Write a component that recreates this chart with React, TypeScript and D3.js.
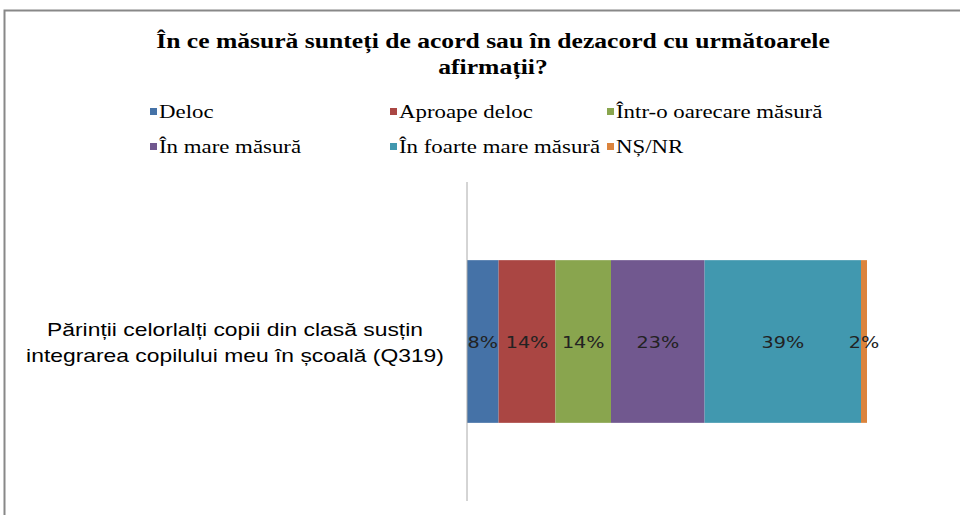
import React from "react";
import * as d3 from "d3";

const title = ["În ce măsură sunteți de acord sau în dezacord cu următoarele", "afirmații?"];
const categories = ["Părinții celorlalți copii din clasă susțin integrarea copilului meu în școală (Q319)"];
const categoryLines = ["Părinții celorlalți copii din clasă susțin", "integrarea copilului meu în școală (Q319)"];
const seriesNames = ["Deloc", "Aproape deloc", "Într-o oarecare măsură", "În mare măsură", "În foarte mare măsură", "NȘ/NR"];
const seriesValues = [7.9, 14.2, 13.9, 23.4, 39.1, 1.5];
const seriesLabels = ["8%", "14%", "14%", "23%", "39%", "2%"];
const colors = ["#4572A7", "#AA4643", "#89A54E", "#71588F", "#4198AF", "#DB843D"];

function SText(props: { x: number; y: number; sx: number; anchor?: string; children: any; [k: string]: any }) {
  const { x, y, sx, anchor, children, ...rest } = props;
  return (
    <text transform={`translate(${x},${y}) scale(${sx},1)`} textAnchor={anchor || "start"} {...rest}>
      {children}
    </text>
  );
}

export default function App() {
  const W = 960, H = 515;
  const x = d3.scaleLinear().domain([0, 100]).range([467, 867]);
  const y = d3.scaleBand().domain(categories).range([182, 501]).paddingInner(0.49).paddingOuter(0.245);
  const stack = d3.stack<number[]>().keys(d3.range(seriesValues.length) as any).value((d: any, k: any) => d[k]);
  const stacked = stack([seriesValues]);
  const legendX = [150, 390, 607];
  const legendY = [112, 147];
  const cat = categories[0];
  const by = y(cat)!;
  const bh = y.bandwidth();
  const cy = by + bh / 2;
  return (
    <svg width={W} height={H} style={{ position: "absolute", left: 0, top: 0 }}>
      <rect x={0} y={0} width={W} height={H} fill="#fff" />
      <rect x={4.5} y={10.5} width={1000} height={600} fill="none" stroke="#888" strokeWidth={2} />
      {title.map((t, i) => (
        <SText key={i} x={493} y={48 + i * 26} sx={1.22} anchor="middle" fontFamily="'Liberation Serif', serif" fontWeight="bold" fontSize={21} fill="#000">{t}</SText>
      ))}
      {seriesNames.map((n, i) => {
        const lx = legendX[i % 3];
        const ly = legendY[Math.floor(i / 3)];
        return (
          <g key={n}>
            <rect x={lx} y={ly - 4} width={7} height={7} fill={colors[i]} />
            <SText x={lx + 9} y={ly + 6} sx={1.27} fontFamily="'Liberation Serif', serif" fontSize={18} fill="#000">{n}</SText>
          </g>
        );
      })}
      {stacked.map((s, i) => (
        <rect key={i} x={x(s[0][0])} y={by} width={x(s[0][1]) - x(s[0][0])} height={bh} fill={colors[i]} />
      ))}
      <line x1={467} x2={467} y1={182} y2={501} stroke="#aaa" strokeWidth={1} />
      {stacked.map((s, i) => (
        <SText key={i} x={(x(s[0][0]) + x(s[0][1])) / 2} y={cy + 6} sx={1.2} anchor="middle" fontFamily="'DejaVu Sans', sans-serif" fontSize={16} fill="#222">{seriesLabels[i]}</SText>
      ))}
      {categoryLines.map((l, i) => (
        <SText key={i} x={235} y={cy - 6 + i * 26} sx={1.27} anchor="middle" fontFamily="'Liberation Sans', Arial, sans-serif" fontSize={18} fill="#000">{l}</SText>
      ))}
    </svg>
  );
}
